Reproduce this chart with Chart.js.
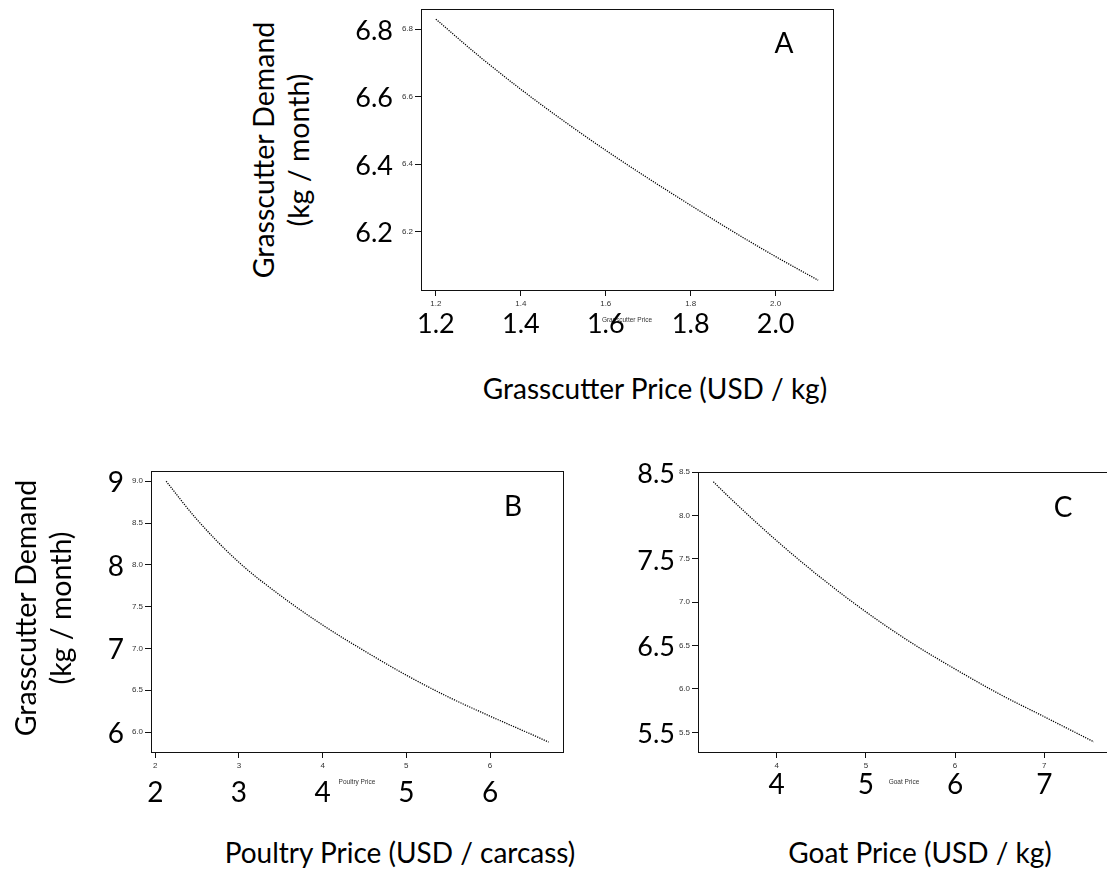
<!DOCTYPE html>
<html>
<head>
<meta charset="utf-8">
<script src="https://cdn.jsdelivr.net/npm/chart.js@4.4.1/dist/chart.umd.min.js"></script>
<style>
  html, body { margin: 0; padding: 0; background: #fff; overflow: hidden; }
  body { width: 1107px; height: 870px; position: relative; font-family: Lato, sans-serif; color: #000; }
  canvas { position: absolute; }
  .txt { position: absolute; white-space: nowrap; transform: translate(-50%, -50%); }
  .ytitle { position: absolute; width: 340px; text-align: center; line-height: 35px; font-size: 28.5px;
            transform: translate(-50%, -50%) rotate(-90deg); }
</style>
</head>
<body>
<canvas id="chartA"></canvas>
<canvas id="chartB"></canvas>
<canvas id="chartC"></canvas>

<div class="ytitle" style="left:281px; top:150px;">Grasscutter Demand<br>(kg / month)</div>
<div class="ytitle" style="left:43px; top:608px;">Grasscutter Demand<br>(kg / month)</div>

<div class="txt" style="left:655px; top:388px; font-size:28px;">Grasscutter Price (USD / kg)</div>
<div class="txt" style="left:400px; top:852px; font-size:28px;">Poultry Price (USD / carcass)</div>
<div class="txt" style="left:920px; top:852px; font-size:28px;">Goat Price (USD / kg)</div>

<div class="txt" style="left:784px; top:42px; font-size:28px;">A</div>
<div class="txt" style="left:513px; top:505px; font-size:28px;">B</div>
<div class="txt" style="left:1063px; top:506px; font-size:28px;">C</div>

<script>
// panel A: grasscutter price vs demand
var priceA  = [1.2, 1.3, 1.4, 1.5, 1.6, 1.7, 1.8, 1.9, 2.0, 2.1]
var demandA = [6.830, 6.722, 6.622, 6.529, 6.441, 6.358, 6.278, 6.200, 6.126, 6.056]
var xTicksA = [1.2, 1.4, 1.6, 1.8, 2.0]
var yTicksA = [6.2, 6.4, 6.6, 6.8]
var xRangeA = [1.165, 2.135]
var yRangeA = [6.027, 6.860]

// panel B: poultry price vs demand
var priceB  = [2.13, 2.5, 3.0, 3.5, 4.0, 4.5, 5.0, 5.5, 6.0, 6.5, 6.7]
var demandB = [9.00, 8.54, 8.03, 7.63, 7.28, 6.97, 6.68, 6.42, 6.19, 5.97, 5.88]
var xTicksB = [2, 3, 4, 5, 6]
var yTicksB = [6.0, 6.5, 7.0, 7.5, 8.0, 8.5, 9.0]
var bigYB   = [6, 7, 8, 9]
var xRangeB = [1.949, 6.872]
var yRangeB = [5.761, 9.123]

// panel C: goat price vs demand
var priceC  = [3.29, 3.5, 4.0, 4.5, 5.0, 5.5, 6.0, 6.5, 7.0, 7.556]
var demandC = [8.39, 8.18, 7.71, 7.28, 6.89, 6.54, 6.23, 5.94, 5.68, 5.39]
var xTicksC = [4, 5, 6, 7]
var yTicksC = [5.5, 6.0, 6.5, 7.0, 7.5, 8.0, 8.5]
var bigYC   = [5.5, 6.5, 7.5, 8.5]
var xRangeC = [3.118, 7.737]
var yRangeC = [5.273, 8.503]

Chart.defaults.font.family = "'Liberation Sans', Arial, sans-serif"
Chart.defaults.color = '#333'

// frame around the plot region + the big overlaid tick numbers
var panelExtras = {
	id: 'panelExtras',
	afterDraw: function(chart, args, o) {
		var ctx = chart.ctx
		var area = chart.chartArea
		ctx.save()
		ctx.strokeStyle = '#111'
		ctx.lineWidth = 1
		ctx.strokeRect(area.left + 0.5, area.top + 0.5, area.right - area.left, area.bottom - area.top)

		ctx.fillStyle = '#000'
		ctx.textBaseline = 'middle'
		ctx.font = o.ySize + 'px Lato'
		ctx.textAlign = 'right'
		for (var i = 0; i < o.y.length; i++) {
			ctx.fillText(o.y[i].toFixed(o.yDigits), area.left - o.yGap, chart.scales.y.getPixelForValue(o.y[i]) + 2)
		}
		ctx.font = o.xSize + 'px Lato'
		ctx.textAlign = 'center'
		for (var j = 0; j < o.x.length; j++) {
			ctx.fillText(o.x[j].toFixed(o.xDigits), chart.scales.x.getPixelForValue(o.x[j]), area.bottom + o.xGap)
		}
		ctx.restore()
	}
}

function makePanel(id, box, prices, demands, xTicks, yTicks, xRange, yRange, xDigits, yDigits, smallTitle, big) {
	var canvas = document.getElementById(id)
	var w = box.R - box.L + 100
	var h = box.B - box.T + 9 + 60
	canvas.width = w
	canvas.height = h
	canvas.style.left = (box.L - 90) + 'px'
	canvas.style.top = (box.T - 9) + 'px'

	var points = []
	for (var i = 0; i < prices.length; i++) {
		points.push({x: prices[i], y: demands[i]})
	}

	new Chart(canvas.getContext('2d'), {
		type: 'scatter',
		data: {
			datasets: [{
				data: points,
				showLine: true,
				borderColor: '#000',
				borderWidth: 1.3,
				borderDash: [1.2, 1.2],
				pointRadius: 0,
				cubicInterpolationMode: 'monotone'
			}]
		},
		options: {
			responsive: false,
			animation: false,
			devicePixelRatio: 1,
			layout: {padding: {left: 60, top: 9, right: 10, bottom: 20}},
			plugins: {
				legend: {display: false},
				tooltip: {enabled: false},
				panelExtras: big
			},
			scales: {
				x: {
					type: 'linear',
					min: xRange[0],
					max: xRange[1],
					afterBuildTicks: function(s) { s.ticks = xTicks.map(function(v) { return {value: v} }) },
					afterFit: function(s) { s.height = 40 },
					border: {display: false},
					grid: {drawOnChartArea: false, drawTicks: true, tickLength: 6, color: '#111'},
					ticks: {
						autoSkip: false, maxRotation: 0, padding: 3,
						font: {size: 8}, color: '#333',
						callback: function(v) { return Number(v).toFixed(xDigits) }
					},
					title: {display: true, text: smallTitle, font: {size: 6.5}, color: '#333', padding: {top: 0, bottom: 6}}
				},
				y: {
					type: 'linear',
					min: yRange[0],
					max: yRange[1],
					afterBuildTicks: function(s) { s.ticks = yTicks.map(function(v) { return {value: v} }) },
					afterFit: function(s) { s.width = 30 },
					border: {display: false},
					grid: {drawOnChartArea: false, drawTicks: true, tickLength: 6, color: '#111'},
					ticks: {
						autoSkip: false, padding: 2,
						font: {size: 8}, color: '#333',
						callback: function(v) { return Number(v).toFixed(yDigits) }
					}
				}
			}
		},
		plugins: [panelExtras]
	})
}

makePanel('chartA', {L: 421, T: 9, R: 833, B: 290}, priceA, demandA, xTicksA, yTicksA, xRangeA, yRangeA, 1, 1,
	'Grasscutter Price',
	{x: xTicksA, y: yTicksA, xDigits: 1, yDigits: 1, xSize: 27, ySize: 27, xGap: 34, yGap: 28})

makePanel('chartB', {L: 151, T: 471, R: 563, B: 752}, priceB, demandB, xTicksB, yTicksB, xRangeB, yRangeB, 0, 1,
	'Poultry Price',
	{x: xTicksB, y: bigYB, xDigits: 0, yDigits: 0, xSize: 28, ySize: 28, xGap: 41, yGap: 27})

makePanel('chartC', {L: 698, T: 472, R: 1110, B: 752}, priceC, demandC, xTicksC, yTicksC, xRangeC, yRangeC, 0, 1,
	'Goat Price',
	{x: xTicksC, y: bigYC, xDigits: 0, yDigits: 1, xSize: 28, ySize: 27, xGap: 33, yGap: 23})
</script>
</body>
</html>
